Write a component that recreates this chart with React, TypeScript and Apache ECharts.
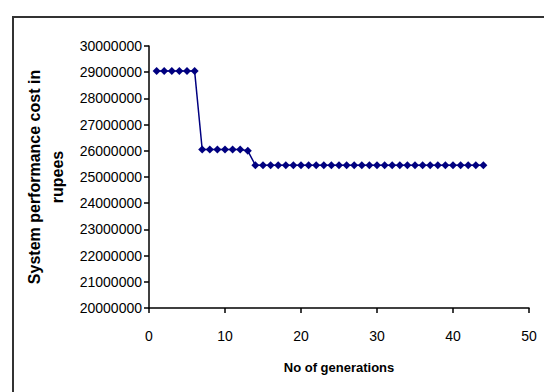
import React, { useEffect, useRef } from "react";
import * as echarts from "echarts";

const generations = [
  1, 2, 3, 4, 5, 6, 7, 8, 9, 10, 11, 12, 13, 14, 15, 16, 17, 18, 19, 20, 21, 22,
  23, 24, 25, 26, 27, 28, 29, 30, 31, 32, 33, 34, 35, 36, 37, 38, 39, 40, 41, 42, 43, 44,
];
const costs = [
  29050000, 29050000, 29050000, 29050000, 29050000, 29050000,
  26050000, 26050000, 26050000, 26050000, 26050000, 26050000, 26000000,
  25450000, 25450000, 25450000, 25450000, 25450000, 25450000, 25450000, 25450000,
  25450000, 25450000, 25450000, 25450000, 25450000, 25450000, 25450000, 25450000,
  25450000, 25450000, 25450000, 25450000, 25450000, 25450000, 25450000, 25450000,
  25450000, 25450000, 25450000, 25450000, 25450000, 25450000, 25450000,
];
const xTicks = { min: 0, max: 50, interval: 10 };
const yTicks = { min: 20000000, max: 30000000, interval: 1000000 };
const xTitle = "No of generations";
const yTitle = "System performance cost in\nrupees";

export default function App() {
  const ref = useRef<HTMLDivElement>(null);
  useEffect(() => {
    if (!ref.current) return;
    const chart = echarts.init(ref.current, undefined, { renderer: "svg" });
    const font = "Liberation Sans, Arial, sans-serif";
    chart.setOption({
      animation: false,
      backgroundColor: "#fff",
      grid: { left: 149, right: 15, top: 46, bottom: 84 },
      xAxis: {
        type: "value",
        min: xTicks.min,
        max: xTicks.max,
        interval: xTicks.interval,
        name: xTitle,
        nameLocation: "middle",
        nameGap: 53,
        nameTextStyle: { fontFamily: font, fontSize: 13, fontWeight: "bold", color: "#000" },
        axisLine: { lineStyle: { color: "#000", width: 1.5 } },
        axisTick: { inside: false, length: 5, lineStyle: { color: "#000", width: 1.5 } },
        axisLabel: {
          fontFamily: font,
          fontSize: 14,
          color: "#000",
          margin: 21,
          formatter: (v: number) => String(v),
        },
        splitLine: { show: false },
      },
      yAxis: {
        type: "value",
        min: yTicks.min,
        max: yTicks.max,
        interval: yTicks.interval,
        name: yTitle,
        nameLocation: "middle",
        nameGap: 80,
        nameRotate: 90,
        nameTextStyle: {
          fontFamily: font,
          fontSize: 16,
          fontWeight: "bold",
          color: "#000",
          lineHeight: 23,
        },
        axisLine: { show: true, lineStyle: { color: "#000", width: 1.5 } },
        axisTick: { show: true, length: 5, lineStyle: { color: "#000", width: 1.5 } },
        axisLabel: {
          fontFamily: font,
          fontSize: 14,
          color: "#000",
          margin: 7,
          formatter: (v: number) => String(v),
        },
        splitLine: { show: false },
      },
      series: [
        {
          type: "line",
          data: generations.map((g, i) => [g, costs[i]]),
          symbol: "diamond",
          symbolSize: 8,
          lineStyle: { color: "#000080", width: 1.5 },
          itemStyle: { color: "#000080" },
        },
      ],
      graphic: [
        {
          type: "rect",
          shape: { x: 13, y: 17, width: 700, height: 600 },
          style: { fill: "none", stroke: "#333", lineWidth: 2 },
          silent: true,
        },
      ],
    });
    return () => chart.dispose();
  }, []);
  return (
    <div
      ref={ref}
      style={{ position: "absolute", left: 0, top: 0, width: 544, height: 392 }}
    />
  );
}
